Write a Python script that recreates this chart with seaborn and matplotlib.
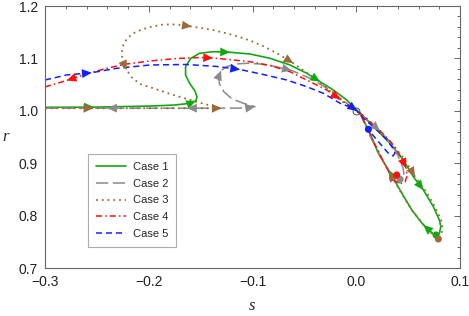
import matplotlib
matplotlib.use("Agg")
import matplotlib.pyplot as plt
import seaborn as sns
from matplotlib.ticker import MultipleLocator, FixedLocator

# statefinder trajectories (s, r)
s1 = [-0.300, -0.253, -0.200, -0.175, -0.160, -0.1545, -0.1535, -0.1555, -0.1605, -0.1645,
      -0.1645, -0.1595, -0.1510, -0.1378, -0.1217, -0.1024, -0.0831, -0.0638, -0.0477, -0.0349,
      -0.0221, -0.0092, 0.0005, 0.0085, 0.0198, 0.0326, 0.0454, 0.0550, 0.0647, 0.0743,
      0.0801, 0.0815, 0.0801, 0.0776, 0.0743, 0.0647, 0.0535, 0.0422, 0.0310, 0.0213,
      0.0133, 0.0037]
r1 = [1.0067, 1.0070, 1.0090, 1.0110, 1.0144, 1.0190, 1.0270, 1.0380, 1.0520, 1.0680,
      1.0842, 1.1000, 1.1098, 1.1128, 1.1117, 1.1084, 1.1002, 1.0874, 1.0716, 1.0556,
      1.0397, 1.0206, 1.0015, 0.9863, 0.9634, 0.9380, 0.9062, 0.8743, 0.8489, 0.8171,
      0.7917, 0.7789, 0.7663, 0.7612, 0.7650, 0.7822, 0.8108, 0.8489, 0.8871, 0.9190,
      0.9571, 0.9953]

s2 = [-0.300, -0.240, -0.200, -0.163, -0.130, -0.106, -0.0976, -0.1088, -0.1197, -0.1274,
      -0.1318, -0.1327, -0.1303, -0.1246, -0.1159, -0.1053, -0.0927, -0.0783, -0.0622, -0.0445,
      -0.0253, -0.0092, 0.0005, 0.0075, 0.0152, 0.0229, 0.0306, 0.0374, 0.0422, 0.0451,
      0.0461, 0.0441, 0.0413, 0.0374, 0.0335, 0.0287, 0.0229, 0.0172, 0.0123]
r2 = [1.0050, 1.0050, 1.0050, 1.0050, 1.0050, 1.0052, 1.0079, 1.0144, 1.0226, 1.0359,
      1.0512, 1.0645, 1.0769, 1.0846, 1.0893, 1.0907, 1.0893, 1.0846, 1.0769, 1.0621,
      1.0397, 1.0144, 0.9997, 0.9863, 0.9749, 0.9615, 0.9443, 0.9252, 0.9062, 0.8909,
      0.8775, 0.8661, 0.8623, 0.8661, 0.8775, 0.8947, 0.9157, 0.9367, 0.9558]

s3 = [-0.300, -0.2535, -0.200, -0.160, -0.1297, -0.1393, -0.1489, -0.1602, -0.1763, -0.1956,
      -0.2084, -0.2164, -0.2212, -0.2248, -0.2261, -0.2245, -0.2210, -0.2149, -0.2068, -0.1969,
      -0.1860, -0.1728, -0.1586, -0.1381, -0.1188, -0.1024, -0.0879, -0.0735, -0.0606, -0.0446,
      -0.0317, -0.0156, -0.0028, 0.0008, 0.0095, 0.0210, 0.0340, 0.0470, 0.0567, 0.0663,
      0.0759, 0.0817, 0.0832, 0.0817, 0.0791, 0.0749, 0.0657, 0.0541, 0.0422, 0.0316,
      0.0220, 0.0143]
r3 = [1.0048, 1.0048, 1.0048, 1.0048, 1.0048, 1.0092, 1.0144, 1.0207, 1.0302, 1.0430,
      1.0512, 1.0636, 1.0779, 1.0932, 1.1103, 1.1256, 1.1380, 1.1479, 1.1552, 1.1609,
      1.1647, 1.1647, 1.1609, 1.1542, 1.1447, 1.1342, 1.1218, 1.1065, 1.0907, 1.0683,
      1.0493, 1.0206, 1.0035, 0.9987, 0.9863, 0.9634, 0.9380, 0.9062, 0.8743, 0.8489,
      0.8171, 0.7917, 0.7764, 0.7612, 0.7554, 0.7612, 0.7803, 0.8089, 0.8470, 0.8833,
      0.9176, 0.9520]

s4 = [-0.300, -0.2904, -0.2791, -0.2663, -0.2518, -0.2373, -0.2212, -0.1988, -0.1730, -0.1506,
      -0.1381, -0.1188, -0.1024, -0.0831, -0.0638, -0.0446, -0.0284, -0.0156, -0.0028, 0.0008,
      0.0104, 0.0210, 0.0326, 0.0384, 0.0441, 0.0480, 0.0490, 0.0470, 0.0422, 0.0374,
      0.0326, 0.0278, 0.0229, 0.0172, 0.0114, 0.0056]
r4 = [1.0455, 1.0512, 1.0579, 1.0664, 1.0750, 1.0827, 1.0893, 1.0951, 1.0998, 1.1017,
      1.1008, 1.0970, 1.0937, 1.0865, 1.0746, 1.0556, 1.0397, 1.0220, 1.0048, 0.9997,
      0.9844, 0.9653, 0.9424, 0.9271, 0.9081, 0.8909, 0.8756, 0.8642, 0.8604, 0.8661,
      0.8795, 0.8966, 0.9157, 0.9386, 0.9634, 0.9863]

s5 = [-0.300, -0.2791, -0.2550, -0.2309, -0.1988, -0.1634, -0.1345, -0.1120, -0.0896, -0.0670,
      -0.0477, -0.0317, -0.0156, -0.0028, 0.0008, 0.0056, 0.0133, 0.0210, 0.0287, 0.0345,
      0.0374, 0.0355, 0.0307, 0.0249, 0.0191, 0.0143, 0.0117]
r5 = [1.0588, 1.0684, 1.0727, 1.0811, 1.0874, 1.0884, 1.0846, 1.0788, 1.0693, 1.0588,
      1.0460, 1.0334, 1.0144, 1.0048, 0.9997, 0.9882, 0.9749, 0.9615, 0.9462, 0.9310,
      0.9195, 0.9138, 0.9195, 0.9329, 0.9462, 0.9577, 0.9647]

# end points of each trajectory and the LCDM point
end_s = [0.0769, 0.0422, 0.0791, 0.0390, 0.0117]
end_r = [0.7630, 0.8693, 0.7554, 0.8776, 0.9647]
lcdm_s = [0.0]
lcdm_r = [1.0]

# arrow heads: (index into the trajectory, direction)
arrows1 = [(1, 1), (5, 1), (14, 1), (19, 1), (28, 1), (35, 1), (38, 1)]
arrows2 = [(1, -1), (3, -1), (6, 1), (12, 1), (18, 1), (25, 1)]
arrows3 = [(1, 1), (4, 1), (12, -1), (22, 1), (28, 1), (38, 1), (49, 1)]
arrows4 = [(2, -1), (10, 1), (17, 1), (25, 1)]
arrows5 = [(2, 1), (7, 1), (14, 1)]

labels = ["Case 1", "Case 2", "Case 3", "Case 4", "Case 5"]
colors = ["#12a812", "#8a8a8a", "#9c6a3a", "#ff1010", "#1020ff"]
styles = ["-", (0, (8, 3)), (0, (1, 2.2)), (0, (4, 2, 1, 2)), (0, (4, 2.5))]
widths = [1.2, 1.1, 1.3, 1.1, 1.1]

xticks = [-0.3, -0.2, -0.1, 0.0, 0.1]
xtick_labels = ["\u22120.3", "\u22120.2", "\u22120.1", "0.0", "0.1"]
yticks = [0.7, 0.8, 0.9, 1.0, 1.1, 1.2]
ytick_labels = ["0.7", "0.8", "0.9", "1.0", "1.1", "1.2"]

sns.set_style("white")
plt.rcParams["font.family"] = ["Liberation Sans", "DejaVu Sans"]

fig, ax = plt.subplots(figsize=(4.69, 3.16), dpi=100)
fig.subplots_adjust(left=45 / 469, right=460 / 469, bottom=1 - 268 / 316, top=1 - 6 / 316)

paths = [(s1, r1, arrows1), (s2, r2, arrows2), (s3, r3, arrows3), (s4, r4, arrows4), (s5, r5, arrows5)]
for (s, r, arr), lab, c, ls, lw in zip(paths, labels, colors, styles, widths):
    sns.lineplot(x=s, y=r, sort=False, estimator=None, color=c, linestyle=ls,
                 linewidth=lw, label=lab, ax=ax)
    for i, d in arr:
        j = i - d
        ax.annotate("", xy=(s[i], r[i]), xytext=(s[j], r[j]),
                    arrowprops=dict(arrowstyle="-|>,head_length=0.7,head_width=0.32",
                                    color=c, lw=0, shrinkA=0, shrinkB=0,
                                    mutation_scale=10))

for k in range(5):
    sns.scatterplot(x=[end_s[k]], y=[end_r[k]], color=colors[k], s=26,
                    edgecolor="none", zorder=5, ax=ax)
ax.plot(lcdm_s, lcdm_r, "o", mfc="none", mec="#333333", mew=0.6, ms=5, zorder=6)

ax.set_xlim(-0.3, 0.1)
ax.set_ylim(0.7, 1.2)
ax.xaxis.set_major_locator(FixedLocator(xticks))
ax.set_xticklabels(xtick_labels)
ax.yaxis.set_major_locator(FixedLocator(yticks))
ax.set_yticklabels(ytick_labels)
ax.xaxis.set_minor_locator(MultipleLocator(0.02))
ax.yaxis.set_minor_locator(MultipleLocator(0.02))
ax.tick_params(which="both", direction="in", top=True, right=True, color="#666666",
               labelsize=10, labelcolor="#222222", width=0.7)
ax.tick_params(which="major", length=4.5, pad=5)
ax.tick_params(which="minor", length=2.5)
for sp in ax.spines.values():
    sp.set_color("#666666")
    sp.set_linewidth(0.8)

ax.set_xlabel("")
ax.set_ylabel("")
ax.text(0.5, -0.145, "s", transform=ax.transAxes, ha="center", va="center",
        family="Liberation Serif", style="italic", fontsize=12)
ax.text(-0.094, 0.5, "r", transform=ax.transAxes, ha="center", va="center",
        family="Liberation Serif", style="italic", fontsize=12)

handles, labs = ax.get_legend_handles_labels()
leg = ax.legend(handles[:5], labs[:5], loc="lower left", bbox_to_anchor=(0.1036, 0.080),
                borderaxespad=0, fontsize=8, frameon=True, fancybox=False,
                handlelength=2.7, handletextpad=0.65, labelspacing=0.62, borderpad=0.7)
leg.get_frame().set_edgecolor("#999999")
leg.get_frame().set_linewidth(0.8)

fig.savefig("out.png", dpi=100)
